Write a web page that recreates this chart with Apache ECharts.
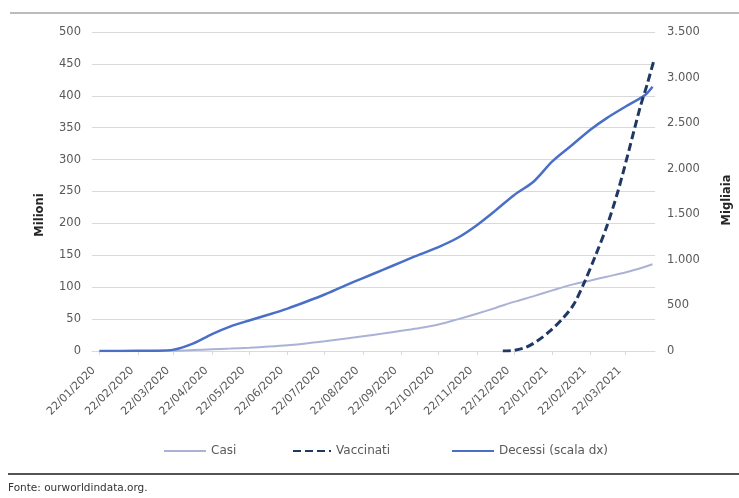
<!DOCTYPE html>
<html>
<head>
<meta charset="utf-8">
<script src="https://cdn.jsdelivr.net/npm/echarts@6/dist/echarts.min.js"></script>
<style>
  html, body { margin: 0; padding: 0; background: #ffffff; }
  #chart { width: 739px; height: 498px; }
</style>
</head>
<body>
<div id="chart"></div>
<script>
// Dates shared by the cases and deaths series
const dates = [
  '2020-01-22', '2020-02-22', '2020-03-07', '2020-03-22', '2020-04-07', '2020-04-22',
  '2020-05-07', '2020-05-22', '2020-06-07', '2020-06-22', '2020-07-07', '2020-07-22',
  '2020-08-07', '2020-08-22', '2020-09-07', '2020-09-22', '2020-10-07', '2020-10-22',
  '2020-11-07', '2020-11-22', '2020-12-07', '2020-12-22', '2021-01-07', '2021-01-22',
  '2021-02-07', '2021-02-22', '2021-03-07', '2021-03-22', '2021-04-07', '2021-04-13'
];
// Cumulative cases, millions (left scale)
const casi = [
  0, 0.1, 0.1, 0.3, 1.4, 2.6,
  3.8, 5.2, 7.0, 9.0, 11.7, 15.2,
  19.3, 23.2, 27.3, 31.6, 36.0, 41.5,
  50.0, 58.5, 67.5, 77.0, 86.0, 95.0,
  104.0, 110.5, 116.5, 123.0, 132.0, 136.0
];
// Cumulative deaths, thousands (right scale)
const decessi = [
  0, 2.4, 3.5, 15, 84, 185,
  270, 335, 400, 465, 540, 620,
  715, 800, 890, 975, 1060, 1140,
  1245, 1380, 1540, 1710, 1860, 2080,
  2260, 2430, 2555, 2680, 2810, 2900
];
// Vaccinations, millions (left scale)
const vaxDates = [
  '2020-12-13', '2020-12-22', '2021-01-01', '2021-01-10', '2021-01-20', '2021-01-30',
  '2021-02-08', '2021-02-17', '2021-02-26', '2021-03-07', '2021-03-16', '2021-03-25',
  '2021-04-03', '2021-04-09', '2021-04-14'
];
const vaccinati = [
  0, 1, 6, 16, 31, 50,
  72, 108, 150, 195, 250, 315,
  382, 420, 455
];
// Monthly tick dates on the date axis
const monthTicks = [
  '2020-01-22', '2020-02-22', '2020-03-22', '2020-04-22', '2020-05-22', '2020-06-22',
  '2020-07-22', '2020-08-22', '2020-09-22', '2020-10-22', '2020-11-22', '2020-12-22',
  '2021-01-22', '2021-02-22', '2021-03-22'
];
const axisStart = '2020-01-16';
const axisEnd = '2021-04-15';

// Dates become day numbers so the axis can be a plain value axis
const DAY = 86400000;
const ts = s => { const p = s.split('-').map(Number); return Date.UTC(p[0], p[1] - 1, p[2]) / DAY; };
const pad = n => (n < 10 ? '0' : '') + n;
const fmtDate = v => { const d = new Date(Math.round(v) * DAY); return pad(d.getUTCDate()) + '/' + pad(d.getUTCMonth() + 1) + '/' + d.getUTCFullYear(); };
const fmtThousands = v => v >= 1000 ? Math.floor(v / 1000) + '.' + String(v % 1000).padStart(3, '0') : String(v);

const FONT = 'DejaVu Sans';
const LABEL = '#595959';

const legendBase = {
  top: 445, padding: 0, itemHeight: 14,
  itemStyle: { opacity: 0 },
  textStyle: { color: LABEL, fontSize: 12, fontFamily: FONT }
};

const chart = echarts.init(document.getElementById('chart'));
chart.setOption({
  animation: false,
  backgroundColor: '#ffffff',
  textStyle: { fontFamily: FONT },
  grid: { left: 92, right: 84, top: 32, bottom: 147, containLabel: false },
  xAxis: {
    type: 'value',
    min: ts(axisStart),
    max: ts(axisEnd),
    axisLine: { show: true, onZero: false, lineStyle: { color: '#d9d9d9', width: 1 } },
    axisTick: { show: true, customValues: monthTicks.map(ts), length: 4, lineStyle: { color: '#d9d9d9' } },
    axisLabel: {
      customValues: monthTicks.map(ts),
      formatter: fmtDate,
      rotate: 45,
      margin: 12,
      padding: [0, 8, 0, 0],
      fontSize: 11,
      color: LABEL,
      fontFamily: FONT,
      showMinLabel: true,
      showMaxLabel: true
    },
    splitLine: { show: false }
  },
  yAxis: [
    {
      type: 'value', position: 'left', min: 0, max: 500, interval: 50,
      axisLine: { show: false }, axisTick: { show: false },
      axisLabel: { margin: 11, fontSize: 11.5, color: LABEL, fontFamily: FONT },
      splitLine: { show: true, lineStyle: { color: '#d9d9d9', width: 1 } }
    },
    {
      type: 'value', position: 'right', min: 0, max: 3500, interval: 500,
      axisLine: { show: false }, axisTick: { show: false },
      axisLabel: { margin: 12, fontSize: 11.5, color: LABEL, fontFamily: FONT, formatter: fmtThousands },
      splitLine: { show: false }
    }
  ],
  legend: [
    Object.assign({ data: ['Casi'], left: 163, itemWidth: 42 }, legendBase),
    Object.assign({ data: ['Vaccinati'], left: 292, itemWidth: 38 }, legendBase),
    Object.assign({ data: ['Decessi (scala dx)'], left: 451, itemWidth: 42 }, legendBase)
  ],
  series: [
    {
      name: 'Casi', type: 'line', yAxisIndex: 0, symbol: 'none', smooth: 0.3,
      data: dates.map((d, i) => [ts(d), casi[i]]),
      lineStyle: { color: '#aab3d6', width: 2 }, itemStyle: { color: '#aab3d6' }
    },
    {
      name: 'Decessi (scala dx)', type: 'line', yAxisIndex: 1, symbol: 'none', smooth: 0.3,
      data: dates.map((d, i) => [ts(d), decessi[i]]),
      lineStyle: { color: '#4a6fc6', width: 2.5 }, itemStyle: { color: '#4a6fc6' }
    },
    {
      name: 'Vaccinati', type: 'line', yAxisIndex: 0, symbol: 'none', smooth: 0.3,
      data: vaxDates.map((d, i) => [ts(d), vaccinati[i]]),
      lineStyle: { color: '#203864', width: 3, type: [8, 4] }, itemStyle: { color: '#203864' }
    }
  ],
  graphic: [
    { type: 'line', shape: { x1: 10, y1: 13, x2: 739, y2: 13 }, style: { stroke: '#a6a6a6', lineWidth: 1.5 } },
    { type: 'line', shape: { x1: 8, y1: 474, x2: 739, y2: 474 }, style: { stroke: '#1a1a1a', lineWidth: 1.5 } },
    { type: 'text', x: 40, y: 215, rotation: Math.PI / 2,
      style: { text: 'Milioni', fill: '#262626', font: 'bold 11.5px "DejaVu Sans"', align: 'center', verticalAlign: 'middle' } },
    { type: 'text', x: 727, y: 200, rotation: Math.PI / 2,
      style: { text: 'Migliaia', fill: '#262626', font: 'bold 11.5px "DejaVu Sans"', align: 'center', verticalAlign: 'middle' } },
    { type: 'text', x: 8, y: 488,
      style: { text: 'Fonte: ourworldindata.org.', fill: '#333333', font: '10.5px "DejaVu Sans"', align: 'left', verticalAlign: 'middle' } }
  ]
});
</script>
</body>
</html>
